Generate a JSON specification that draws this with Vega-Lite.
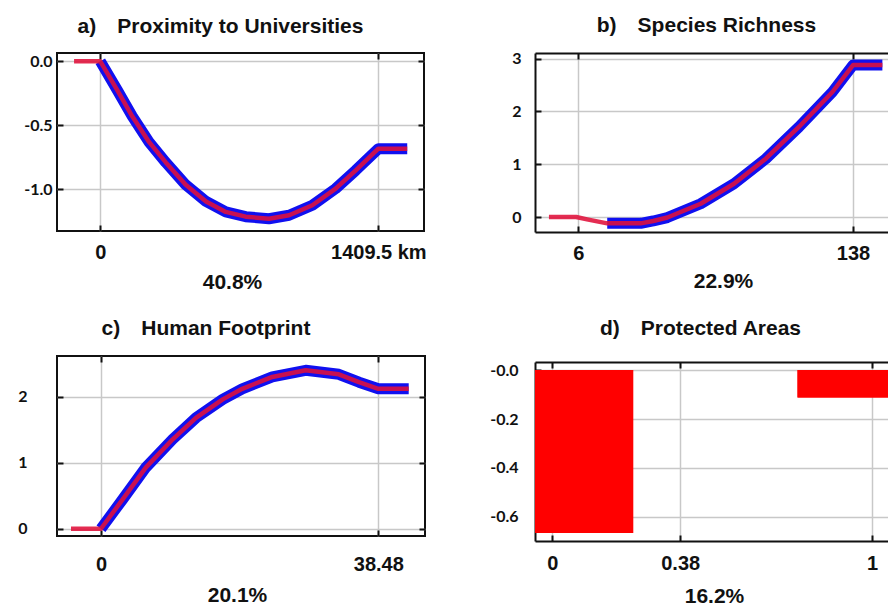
{
  "$schema": "https://vega.github.io/schema/vega-lite/v6.json",
  "padding": {"left": 16, "top": 14, "right": 0, "bottom": 0},
  "background": "white",
  "config": {
    "axis": {"gridColor": "#c8c8c8", "gridWidth": 1.5, "tickColor": "#111", "tickWidth": 2, "tickSize": -6, "domainColor": "#111", "domainWidth": 2, "labelColor": "#111", "titleColor": "#111"},
    "axisX": {"labelFont": "Liberation Sans", "labelFontSize": 20, "labelFontWeight": "bold", "titleFont": "Liberation Sans", "titleFontSize": 21, "titleFontWeight": "bold", "titleBaseline": "alphabetic", "titleAlign": "center"},
    "axisY": {"labelFont": "Lato", "labelFontSize": 16, "labelFontWeight": "bold"},
    "title": {"font": "Liberation Sans", "fontSize": 21, "fontWeight": "bold", "color": "#111", "baseline": "alphabetic", "anchor": "middle"},
    "line": {"strokeJoin": "round"}
  },
  "bounds": "flush",
  "spacing": 478,
  "hconcat": [
    {
      "bounds": "flush",
      "spacing": 125,
      "vconcat": [
        {
          "width": 367, "height": 178,
          "title": {"text": "a)\u2003Proximity to Universities", "dx": -20, "offset": 15},
          "view": {"stroke": "#111", "strokeWidth": 2},
          "data": {"values": [
            {"x": -133, "y": 0}, {"x": 0, "y": 0}, {"x": 86, "y": -0.225}, {"x": 162, "y": -0.43},
            {"x": 247, "y": -0.63}, {"x": 332, "y": -0.79}, {"x": 433, "y": -0.965}, {"x": 536, "y": -1.095},
            {"x": 636, "y": -1.177}, {"x": 737, "y": -1.214}, {"x": 855, "y": -1.23}, {"x": 957, "y": -1.203},
            {"x": 1075, "y": -1.125}, {"x": 1193, "y": -0.995}, {"x": 1295, "y": -0.852}, {"x": 1409.5, "y": -0.683},
            {"x": 1556, "y": -0.683}
          ]},
          "layer": [
            {
              "transform": [{"filter": "datum.x >= 0"}],
              "mark": {"type": "line", "color": "#1010f0", "strokeWidth": 11, "strokeCap": "butt"},
              "encoding": {
                "x": {"field": "x", "type": "quantitative", "scale": {"domain": [-219.5, 1641], "nice": false, "zero": false},
                  "axis": {"values": [0, 1409.5], "labelExpr": "datum.value == 0 ? '0' : '1409.5 km'", "grid": true, "domain": false, "labelPadding": 17, "title": "40.8%", "titleX": 175, "titleY": 57}},
                "y": {"field": "y", "type": "quantitative", "scale": {"domain": [-1.326, 0.065], "nice": false, "zero": false},
                  "axis": {"values": [0, -0.5, -1], "labelExpr": "replace(format(datum.value, '.1f'), '\u2212', '-')", "grid": true, "domain": false, "labelPadding": 11, "title": null}}
              }
            },
            {
              "mark": {"type": "line", "color": "#e0103a", "opacity": 0.88, "strokeWidth": 4.5, "strokeCap": "butt"},
              "encoding": {
                "x": {"field": "x", "type": "quantitative", "axis": {"orient": "top", "values": [0, 1409.5], "labels": false, "grid": false, "domain": false, "title": null}},
                "y": {"field": "y", "type": "quantitative", "axis": {"orient": "right", "values": [0, -0.5, -1], "labels": false, "grid": false, "domain": false, "title": null}}
              }
            }
          ],
          "resolve": {"axis": {"x": "independent", "y": "independent"}}
        },
        {
          "width": 368, "height": 180,
          "title": {"text": "c)\u2003Human Footprint", "dx": -35, "offset": 16.5},
          "view": {"stroke": "#111", "strokeWidth": 2},
          "data": {"values": [
            {"x": -4.16, "y": 0}, {"x": 0, "y": 0}, {"x": 3.01, "y": 0.445}, {"x": 6.24, "y": 0.93},
            {"x": 9.95, "y": 1.355}, {"x": 13.18, "y": 1.68}, {"x": 16.89, "y": 1.96}, {"x": 19.6, "y": 2.12},
            {"x": 23.77, "y": 2.3}, {"x": 28.4, "y": 2.4}, {"x": 33.0, "y": 2.34}, {"x": 35.8, "y": 2.22},
            {"x": 38.48, "y": 2.12}, {"x": 42.7, "y": 2.12}
          ]},
          "layer": [
            {
              "transform": [{"filter": "datum.x >= 0"}],
              "mark": {"type": "line", "color": "#1010f0", "strokeWidth": 11, "strokeCap": "butt"},
              "encoding": {
                "x": {"field": "x", "type": "quantitative", "scale": {"domain": [-6.1, 44.96], "nice": false, "zero": false},
                  "axis": {"values": [0, 38.48], "labelExpr": "datum.value == 0 ? '0' : '38.48'", "grid": true, "domain": false, "labelPadding": 24, "title": "20.1%", "titleX": 180, "titleY": 65}},
                "y": {"field": "y", "type": "quantitative", "scale": {"domain": [-0.11, 2.617], "nice": false, "zero": false},
                  "axis": {"values": [0, 1, 2], "format": "d", "grid": true, "domain": false, "labelPadding": 36, "title": null}}
              }
            },
            {
              "mark": {"type": "line", "color": "#e0103a", "opacity": 0.88, "strokeWidth": 4.5, "strokeCap": "butt"},
              "encoding": {
                "x": {"field": "x", "type": "quantitative", "axis": {"orient": "top", "values": [0, 38.48], "labels": false, "grid": false, "domain": false, "title": null}},
                "y": {"field": "y", "type": "quantitative", "axis": {"orient": "right", "values": [0, 1, 2], "labels": false, "grid": false, "domain": false, "title": null}}
              }
            }
          ],
          "resolve": {"axis": {"x": "independent", "y": "independent"}}
        }
      ]
    },
    {
      "bounds": "flush",
      "spacing": 130,
      "vconcat": [
        {
          "width": 353, "height": 179,
          "title": {"text": "b)\u2003Species Richness", "dx": -5, "offset": 15},
          "view": {"stroke": null},
          "data": {"values": [
            {"x": -8.1, "y": 0}, {"x": 5, "y": 0}, {"x": 10.2, "y": -0.044}, {"x": 19.9, "y": -0.12},
            {"x": 36, "y": -0.12}, {"x": 42, "y": -0.075}, {"x": 48.8, "y": -0.01}, {"x": 64.8, "y": 0.252},
            {"x": 80.8, "y": 0.631}, {"x": 96.1, "y": 1.105}, {"x": 112, "y": 1.706}, {"x": 128.1, "y": 2.369},
            {"x": 138, "y": 2.88}, {"x": 152.1, "y": 2.88}
          ]},
          "layer": [
            {
              "transform": [{"filter": "datum.x >= 19.9"}],
              "mark": {"type": "line", "color": "#1010f0", "strokeWidth": 11, "strokeCap": "butt"},
              "encoding": {
                "x": {"field": "x", "type": "quantitative", "scale": {"domain": [-14.8, 154.8], "nice": false, "zero": false},
                  "axis": {"values": [6, 138], "format": "d", "grid": true, "domain": true, "labelPadding": 17, "title": "22.9%", "titleX": 188, "titleY": 55}},
                "y": {"field": "y", "type": "quantitative", "scale": {"domain": [-0.284, 3.108], "nice": false, "zero": false},
                  "axis": {"values": [0, 1, 2, 3], "format": "d", "grid": true, "domain": true, "labelPadding": 20, "title": null}}
              }
            },
            {
              "mark": {"type": "line", "color": "#e0103a", "opacity": 0.88, "strokeWidth": 4.5, "strokeCap": "butt"},
              "encoding": {
                "x": {"field": "x", "type": "quantitative", "axis": {"orient": "top", "values": [6, 138], "labels": false, "grid": false, "domain": true, "title": null}},
                "y": {"field": "y", "type": "quantitative", "axis": null}
              }
            }
          ],
          "resolve": {"axis": {"x": "independent", "y": "independent"}}
        },
        {
          "width": 353, "height": 179,
          "title": {"text": "d)\u2003Protected Areas", "dx": -11, "offset": 22.5},
          "view": {"stroke": null},
          "data": {"values": [
            {"x1": -0.054, "x2": 0.253, "y": -0.665},
            {"x1": 0.767, "x2": 1.05, "y": -0.112}
          ]},
          "layer": [
            {
              "mark": {"type": "rect", "color": "#ff0000"},
              "encoding": {
                "x": {"field": "x1", "type": "quantitative", "scale": {"domain": [-0.054, 1.05], "nice": false, "zero": false},
                  "axis": {"values": [0, 0.4, 1], "labelExpr": "datum.value == 0 ? '0' : datum.value == 1 ? '1' : '0.38'", "grid": true, "domain": true, "labelPadding": 18, "title": "16.2%", "titleX": 179, "titleY": 61}},
                "x2": {"field": "x2"},
                "y": {"field": "y", "type": "quantitative", "scale": {"domain": [-0.698, 0.0327], "nice": false, "zero": false},
                  "axis": {"values": [0, -0.2, -0.4, -0.6], "labelExpr": "datum.value == 0 ? '-0.0' : replace(format(datum.value, '.1f'), '\u2212', '-')", "grid": true, "domain": true, "labelPadding": 23, "title": null}},
                "y2": {"datum": 0}
              }
            },
            {
              "mark": {"type": "rect", "color": "#ff0000"},
              "encoding": {
                "x": {"field": "x1", "type": "quantitative", "axis": {"orient": "top", "values": [0, 0.4, 1], "labels": false, "grid": false, "domain": true, "title": null}},
                "x2": {"field": "x2"},
                "y": {"field": "y", "type": "quantitative", "axis": null},
                "y2": {"datum": 0}
              }
            }
          ],
          "resolve": {"axis": {"x": "independent", "y": "independent"}}
        }
      ]
    }
  ]
}
